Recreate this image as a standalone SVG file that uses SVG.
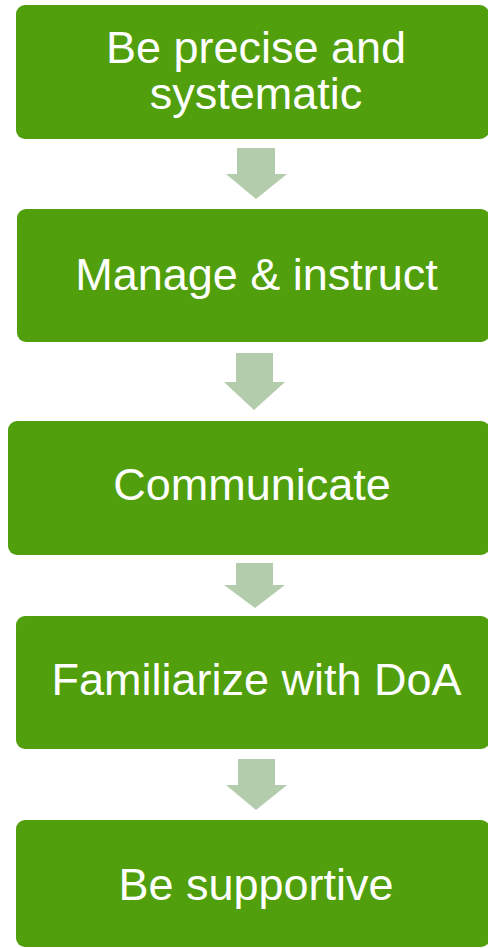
<svg xmlns="http://www.w3.org/2000/svg" width="488" height="948" viewBox="0 0 488 948">
  <style>
    .box { fill: #519f0d; }
    .lbl { fill: #ffffff; font-family: "Liberation Sans", Arial, sans-serif; font-size: 45px; text-anchor: middle; }
    .arr { fill: #b3cdac; }
  </style>
  <rect width="488" height="948" fill="#ffffff"/>
  <g id="connectors">
    <polygon class="arr" points="237,148 275,148 275,174 287,174 256,199 226,174 237,174"/>
    <polygon class="arr" points="236,353 273,353 273,382 285,382 254,410 224,382 236,382"/>
    <polygon class="arr" points="236,563 273,563 273,585 285,585 255,608 224,585 236,585"/>
    <polygon class="arr" points="238,759 275,759 275,785 287,785 256,810 226,785 238,785"/>
  </g>
  <g id="node1">
    <rect class="box" x="16" y="5" width="473" height="134" rx="9"/>
    <text class="lbl" x="256" y="63">Be precise and</text>
    <text class="lbl" x="256" y="109">systematic</text>
  </g>
  <g id="node2">
    <rect class="box" x="17" y="209" width="473" height="133" rx="9"/>
    <text class="lbl" x="256.5" y="290">Manage &amp; instruct</text>
  </g>
  <g id="node3">
    <rect class="box" x="8" y="421" width="482" height="134" rx="9"/>
    <text class="lbl" x="252" y="500">Communicate</text>
  </g>
  <g id="node4">
    <rect class="box" x="16" y="616" width="474" height="133" rx="9"/>
    <text class="lbl" x="256.5" y="695">Familiarize with DoA</text>
  </g>
  <g id="node5">
    <rect class="box" x="16" y="820" width="474" height="127" rx="9"/>
    <text class="lbl" x="256" y="900">Be supportive</text>
  </g>
</svg>
